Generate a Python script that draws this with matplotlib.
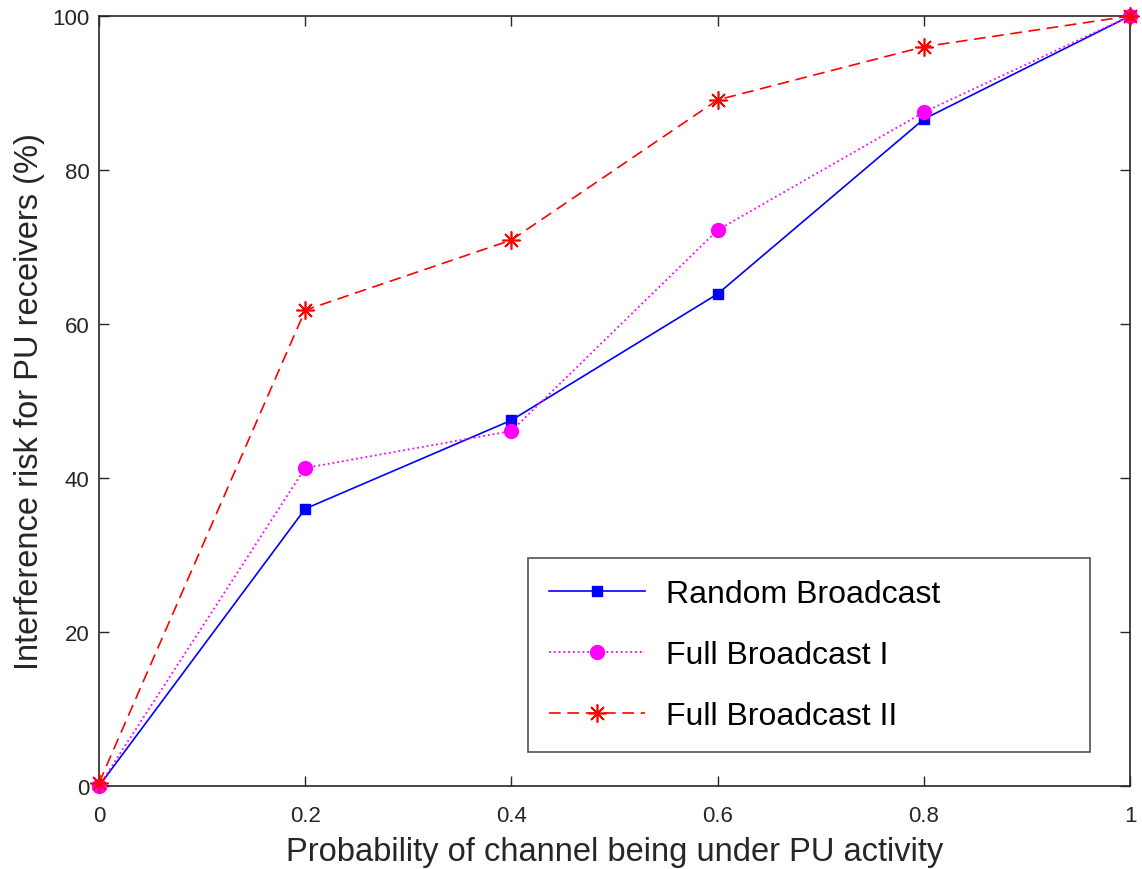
import matplotlib
matplotlib.use('Agg')
import matplotlib.pyplot as plt

plt.rcParams['font.family'] = ['Liberation Sans', 'DejaVu Sans']

# ── Data ────────────────────────────────────────────────────────────────────
prob = [0, 0.2, 0.4, 0.6, 0.8, 1.0]
random_bc = [0, 36.0, 47.5, 63.9, 86.6, 100]
full_bc_1 = [0, 41.3, 46.1, 72.2, 87.5, 100]
full_bc_2 = [0.4, 61.8, 70.9, 89.1, 96.0, 100]

xticks = [0, 0.2, 0.4, 0.6, 0.8, 1]
xticklabels = ['0', '0.2', '0.4', '0.6', '0.8', '1']
yticks = [0, 20, 40, 60, 80, 100]

# ── Plot ─────────────────────────────────────────────────────────────────────
fig = plt.figure(figsize=(11.42, 8.70), dpi=100)
ax = fig.add_axes([0.0867, 0.0954, 0.9028, 0.8851])

ax.plot(prob, random_bc, '-', color='#0000ff', lw=1.2, marker='s', ms=7,
        label='Random Broadcast', clip_on=False, zorder=3)
ax.plot(prob, full_bc_1, ':', color='#ff00ff', lw=1.3, marker='o', ms=10,
        label='Full Broadcast I', clip_on=False, zorder=4)
ax.plot(prob, full_bc_2, color='#ff0000', lw=1.2, marker=(8, 2, 0), ms=13,
        markeredgewidth=1.2, linestyle=(0, (7, 4)), label='Full Broadcast II',
        clip_on=False, zorder=5)

ax.set_xlim(0, 1)
ax.set_ylim(0, 100)
ax.set_xticks(xticks)
ax.set_xticklabels(xticklabels)
ax.set_yticks(yticks)
ax.tick_params(direction='in', top=True, right=True, length=7, width=1,
               labelsize=16, colors='#262626', pad=7)
ax.tick_params(axis='x', pad=13.5)
for s in ax.spines.values():
    s.set_color('#262626')
    s.set_linewidth(1.2)

ax.set_xlabel('Probability of channel being under PU activity', fontsize=23.5,
              color='#262626', labelpad=7.5)
ax.set_ylabel('Interference risk for PU receivers (%)', fontsize=23.5,
              color='#262626', labelpad=5)

leg = ax.legend(loc='lower left', bbox_to_anchor=(0.416, 0.044, 0.545, 0.252),
                mode='expand', fontsize=23, frameon=True, fancybox=False,
                edgecolor='#262626', handlelength=3.0, borderpad=0.66,
                labelspacing=0.97, handletextpad=0.65, borderaxespad=0)
leg.get_frame().set_linewidth(1.2)

plt.savefig('out.png', dpi=100)
